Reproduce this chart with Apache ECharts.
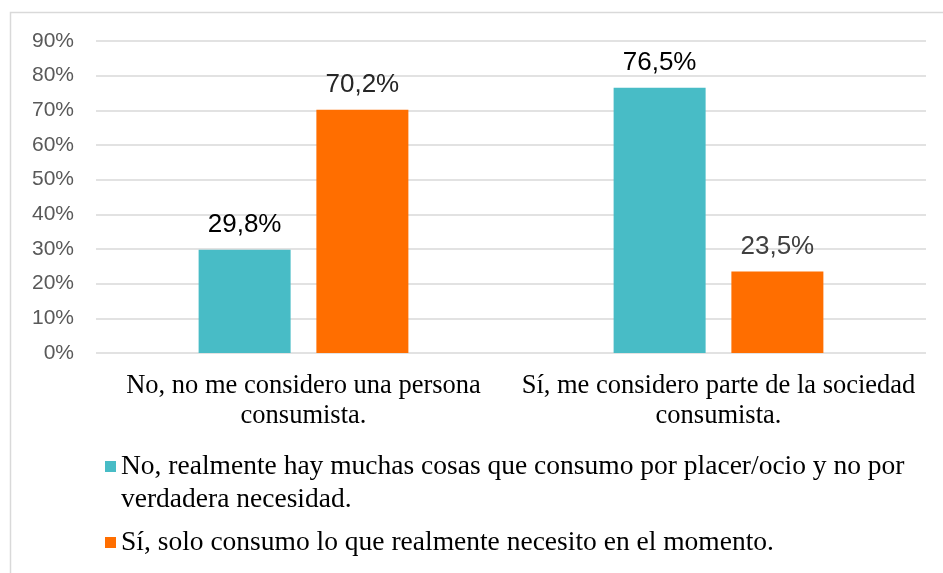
<!DOCTYPE html>
<html>
<head>
<meta charset="utf-8">
<script src="https://cdn.jsdelivr.net/npm/echarts@6/dist/echarts.min.js"></script>
<style>
  * { margin: 0; padding: 0; }
  body { background: #fff; }
</style>
</head>
<body>
<div id="main" style="width: 943px; height: 573px;"></div>
<script>
// categorias del eje x
var categorias = ['No, no me considero una persona\nconsumista.', 'Sí, me considero parte de la sociedad\nconsumista.']
// nombres de las series (leyenda)
var serieNo = 'No, realmente hay muchas cosas que consumo por placer/ocio y no por verdadera necesidad.'
var serieSi = 'Sí, solo consumo lo que realmente necesito en el momento.'
// valores en %
var valoresNo = [29.8, 76.5]
var valoresSi = [70.2, 23.5]
var ticksY = [0, 10, 20, 30, 40, 50, 60, 70, 80, 90]

var myChart = echarts.init(document.getElementById('main'))

function etiqueta(color) {
  return {
    show: true,
    position: 'top',
    distance: 12,
    fontFamily: 'Liberation Sans',
    fontSize: 26,
    color: color,
    formatter: function (p) { return p.value.toFixed(1).replace('.', ',') + '%' }
  }
}

myChart.setOption({
  animation: false,
  graphic: [{
    type: 'rect',
    shape: { x: 10.5, y: 12.5, width: 960, height: 600 },
    style: { fill: 'none', stroke: '#d9d9d9', lineWidth: 1.5 }
  }],
  grid: { left: 96, right: 17, top: 41, bottom: 220, containLabel: false },
  legend: {
    orient: 'vertical',
    left: 100,
    top: 412,
    itemWidth: 11,
    itemHeight: 11,
    itemGap: 10,
    icon: 'rect',
    formatter: function (name) {
      // salto de linea como en el original; la linea vacia arriba deja el icono en la primera linea
      if (name.indexOf('y no por ') >= 0) return '\n' + name.replace('y no por ', 'y no por\n')
      return name
    },
    textStyle: { fontFamily: 'Liberation Serif', fontSize: 27.5, color: '#000', lineHeight: 33 },
    data: [serieNo, serieSi]
  },
  xAxis: {
    type: 'category',
    data: categorias,
    axisLine: { show: false },
    axisTick: { show: false },
    axisLabel: {
      interval: 0,
      margin: 18,
      fontFamily: 'Liberation Serif',
      fontSize: 26.5,
      lineHeight: 30,
      color: '#000'
    }
  },
  yAxis: {
    type: 'value',
    min: 0,
    max: 90,
    interval: 10,
    axisLabel: {
      margin: 22,
      fontFamily: 'Liberation Sans',
      fontSize: 21,
      color: '#595959',
      formatter: '{value}%'
    },
    splitLine: { lineStyle: { color: '#d9d9d9', width: 1.5 } }
  },
  series: [
    {
      name: serieNo,
      type: 'bar',
      barWidth: 92,
      barGap: '28%',
      itemStyle: { color: '#48BCC6' },
      label: etiqueta('#000'),
      data: valoresNo
    },
    {
      name: serieSi,
      type: 'bar',
      barWidth: 92,
      barGap: '28%',
      itemStyle: { color: '#FF6E00' },
      label: etiqueta('#262626'),
      data: [
        { value: valoresSi[0] },
        { value: valoresSi[1], label: { color: '#404040' } }
      ]
    }
  ]
})
</script>
</body>
</html>
